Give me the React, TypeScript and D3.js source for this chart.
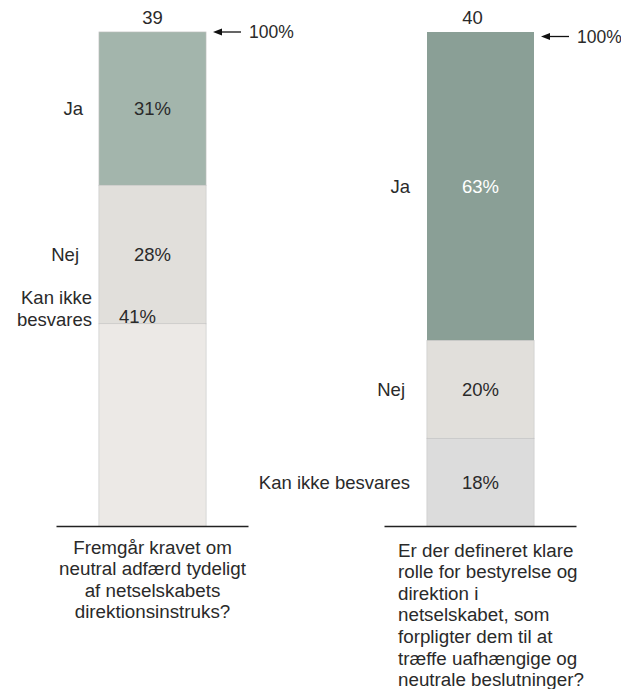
import React from "react";
import * as d3 from "d3";

const questions = [
  ["Fremgår kravet om", "neutral adfærd tydeligt", "af netselskabets", "direktionsinstruks?"],
  ["Er der defineret klare", "rolle for bestyrelse og", "direktion i", "netselskabet, som", "forpligter dem til at", "træffe uafhængige og", "neutrale beslutninger?"],
];
const counts = [39, 40];
const answers = ["Ja", "Nej", "Kan ikke besvares"];
const valuesQ1 = [31, 28, 41];
const valuesQ2 = [63, 20, 18];
const allValues = [valuesQ1, valuesQ2];

const W = 621;
const H = 689;
const TOP = 32;
const BOTTOM = 526.5;
const BAR_W = 107;
const FONT = "'Liberation Sans', Arial, sans-serif";
const TXT = "#2a2a2a";
const LBL = 18.5;

const fills = [
  ["#a3b5ac", "#e1dfdb", "#ece9e6"],
  ["#8a9f96", "#e1dfdb", "#dcdcdc"],
];

export default function App() {
  const x = d3.scalePoint<number>().domain([0, 1]).range([152.5, 480.5]);

  return (
    <svg width={W} height={H} style={{ position: "absolute", left: 0, top: 0 }} fontFamily={FONT}>
      <rect width={W} height={H} fill="#fff" />
      {allValues.map((vals, qi) => {
        const total = d3.sum(vals);
        const y = d3.scaleLinear().domain([0, total]).range([TOP, BOTTOM]);
        const stack = d3.cumsum(vals);
        const cx = x(qi)!;
        const left = cx - BAR_W / 2;
        const segs = vals.map((v, i) => ({ v, y0: y(stack[i] - v), y1: y(stack[i]) }));
        return (
          <g key={qi}>
            {segs.map((s, i) => (
              <rect
                key={i}
                x={left}
                y={s.y0}
                width={BAR_W}
                height={s.y1 - s.y0}
                fill={fills[qi][i]}
                stroke={i === 0 && qi === 1 ? "none" : "#c4c4c4"}
                strokeWidth={0.8}
              />
            ))}
            {segs.map((s, i) => (
              <rect key={"f" + i} x={left + 0.5} y={s.y0 + 0.5} width={BAR_W - 1} height={s.y1 - s.y0 - 1} fill={fills[qi][i]} />
            ))}
            <line x1={cx - 96} x2={cx + 96} y1={BOTTOM} y2={BOTTOM} stroke="#222" strokeWidth={1.3} />
            <text x={qi === 0 ? cx : cx - 8} y={18} textAnchor="middle" dy="0.35em" fontSize={LBL} fill={TXT}>
              {counts[qi]}
            </text>
            {(() => {
              const ay = qi === 0 ? 32 : 36.5;
              const ax = left + BAR_W + 7;
              return (
                <g>
                  <line x1={ax + 6} x2={ax + 28} y1={ay} y2={ay} stroke="#111" strokeWidth={1.3} />
                  <path d={`M${ax},${ay} L${ax + 9},${ay - 3.5} L${ax + 9},${ay + 3.5} Z`} fill="#111" />
                  <text x={ax + 36} y={ay} dy="0.35em" fontSize={17.5} fill={TXT}>100%</text>
                </g>
              );
            })()}
            {segs.map((s, i) => {
              const mid = (s.y0 + s.y1) / 2;
              const special = qi === 0 && i === 2;
              const vy = special ? 317 : mid;
              const vx = special ? left + 20 : cx;
              return (
                <g key={"l" + i}>
                  <text
                    x={vx}
                    y={vy}
                    dy="0.35em"
                    textAnchor={special ? "start" : "middle"}
                    fontSize={LBL}
                    fill={qi === 1 && i === 0 ? "#ffffff" : TXT}
                  >
                    {vals[i] + "%"}
                  </text>
                  {qi === 0 && i === 2 ? (
                    <text x={left - 7} y={298} textAnchor="end" fontSize={LBL} fill={TXT}>
                      <tspan x={left - 7} dy="0.35em">Kan ikke</tspan>
                      <tspan x={left - 7} dy="22">besvares</tspan>
                    </text>
                  ) : (
                    <text
                      x={left - (i === 1 ? (qi === 0 ? 20 : 22) : i === 0 ? (qi === 0 ? 16 : 17) : 17)}
                      y={mid}
                      dy="0.35em"
                      textAnchor="end"
                      fontSize={LBL}
                      fill={TXT}
                    >
                      {answers[i]}
                    </text>
                  )}
                </g>
              );
            })}
            <text fontSize={18.8} fill={TXT} textAnchor={qi === 0 ? "middle" : "start"}>
              {questions[qi].map((line, li) => (
                <tspan
                  key={li}
                  x={qi === 0 ? cx : 398}
                  y={(qi === 0 ? 547 : 550) + li * 21.6}
                  dy="0.35em"
                >
                  {line}
                </tspan>
              ))}
            </text>
          </g>
        );
      })}
    </svg>
  );
}
